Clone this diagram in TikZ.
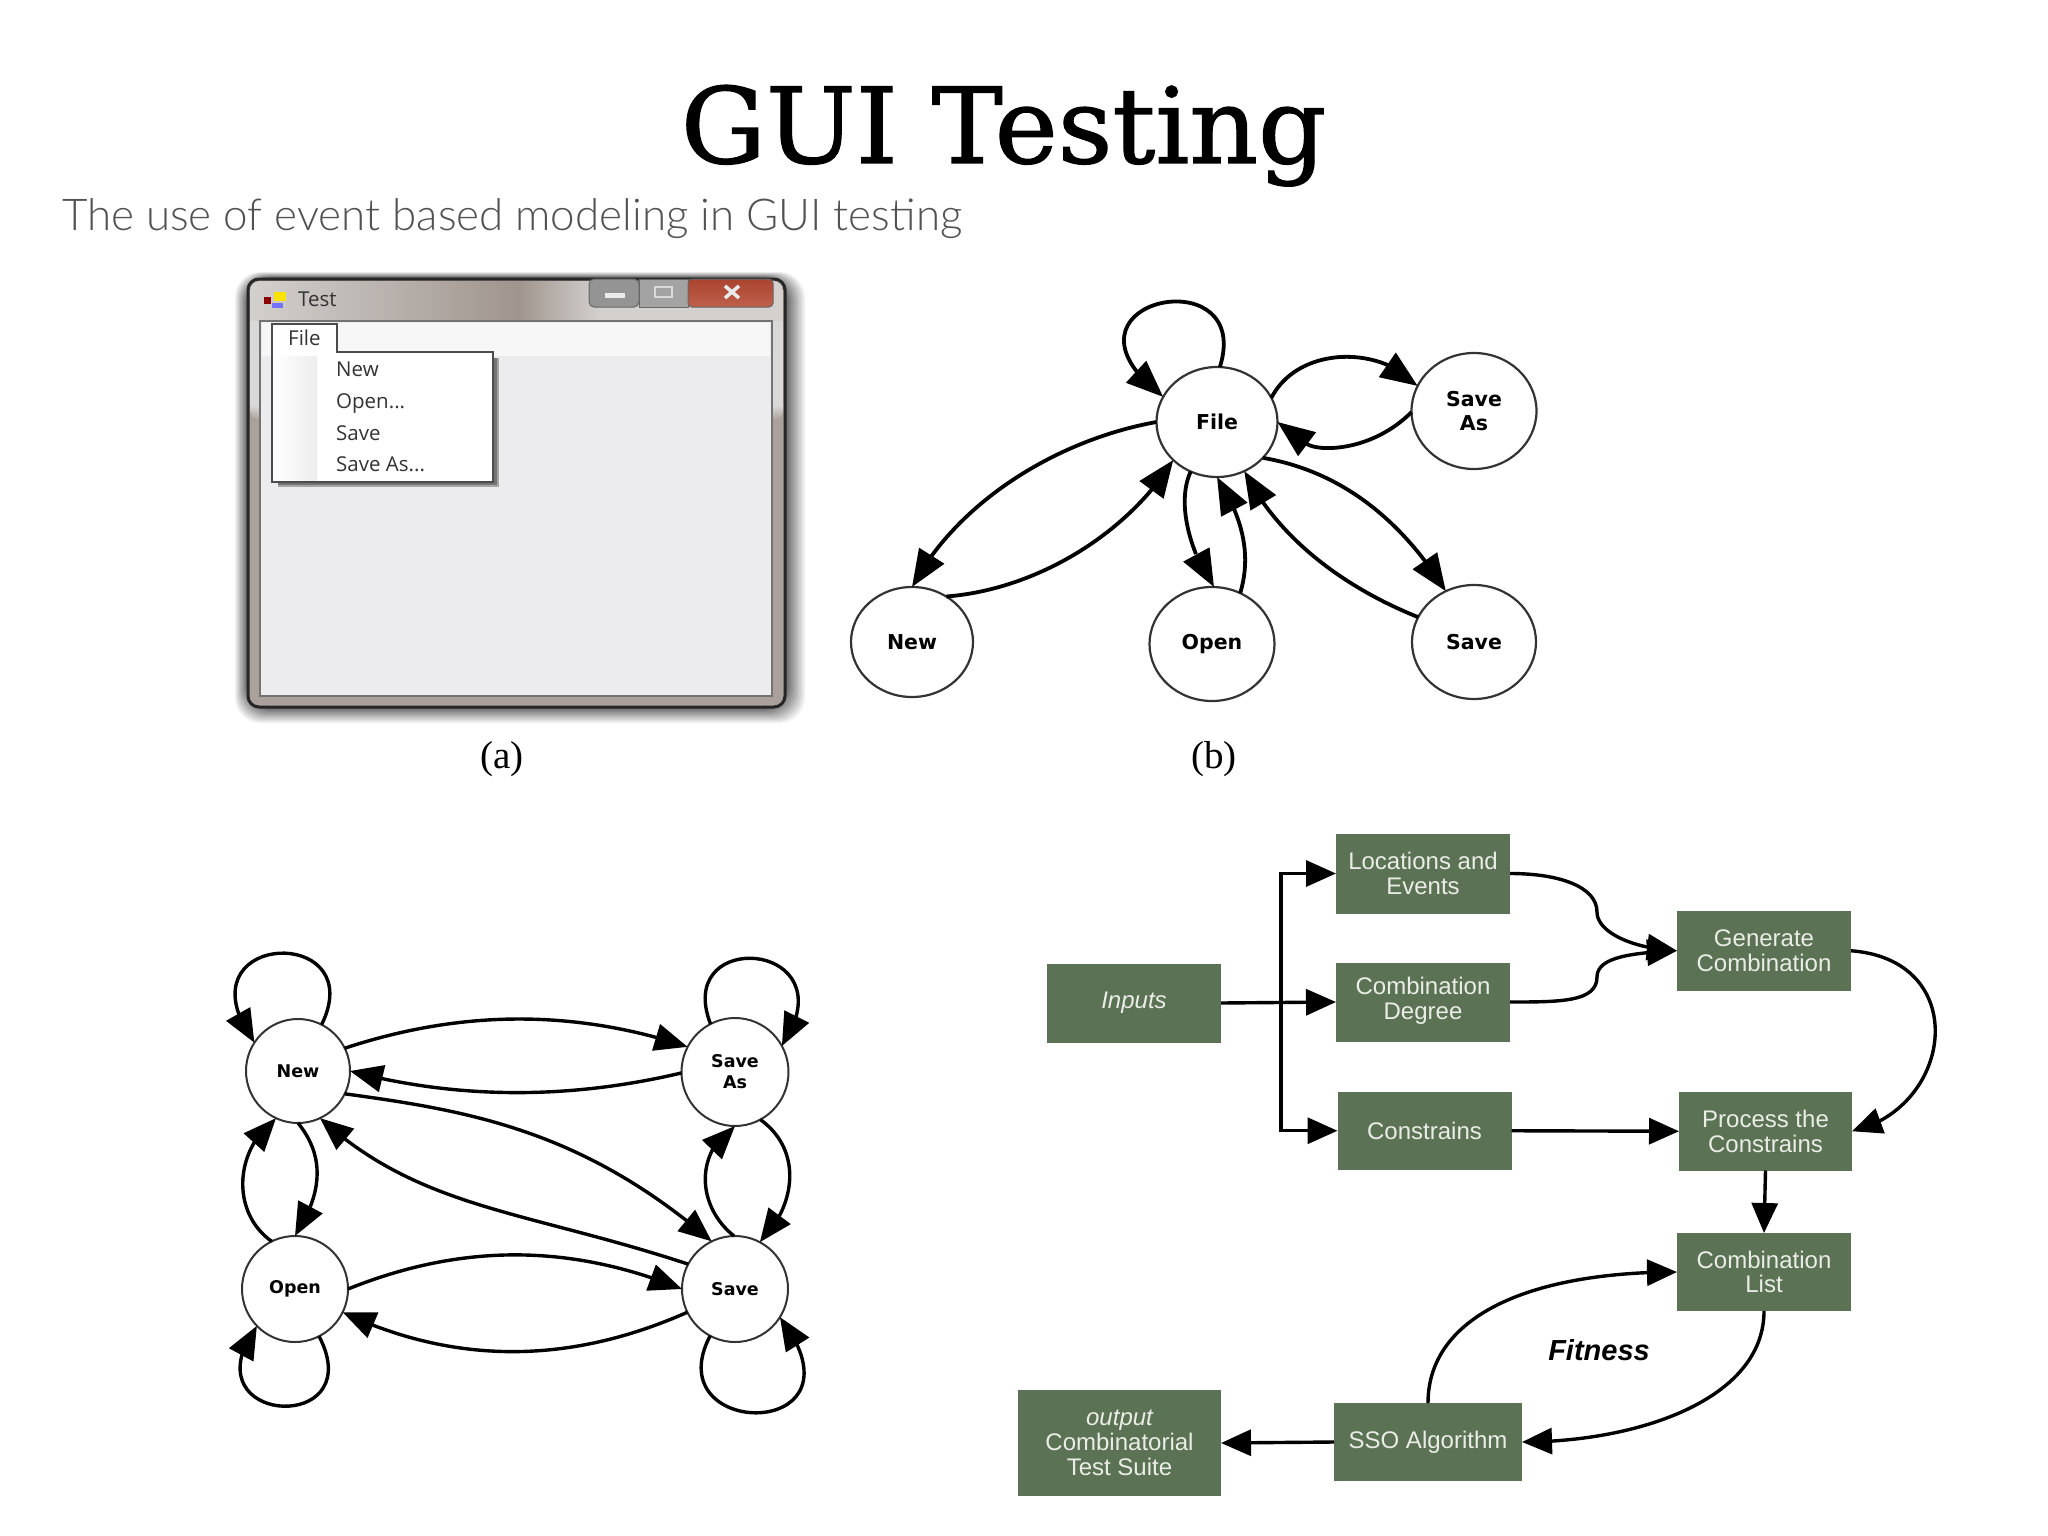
\documentclass[tikz,border=0pt]{standalone}
\usepackage{fontspec}
\usepackage{graphicx}
\usetikzlibrary{arrows.meta,bending,shapes.geometric}
\setmainfont{Liberation Sans}
\newfontfamily\titlefont[FakeBold=1.2]{DejaVu Serif}
\newfontfamily\subfont{Lato Light}
\newfontfamily\capfont{Liberation Serif}
\newfontfamily\winfont{Open Sans}
\newfontfamily\graphfont{DejaVu Sans}
\definecolor{boxgreen}{HTML}{5C7254}
\definecolor{boxtext}{HTML}{E9EDE6}
\definecolor{framedark}{HTML}{A0958E}
\definecolor{framemid}{HTML}{ABA19C}
\definecolor{framelite}{HTML}{D3D0CE}
\definecolor{clientgray}{HTML}{ECECEE}
\definecolor{closered}{HTML}{A9442F}
\definecolor{closelite}{HTML}{C0604C}
\tikzset{
  bnode/.style={draw=black!80,line width=2.2pt,fill=white,ellipse,inner sep=0pt,outer sep=0pt,align=center,
     font=\graphfont\bfseries\fontsize{20.5}{23.5}\selectfont},
  cnode/.style={draw=black!80,line width=2pt,fill=white,ellipse,inner sep=0pt,outer sep=0pt,align=center,
     font=\graphfont\bfseries\fontsize{17.5}{21}\selectfont},
  garrow/.style={line width=3.8pt,draw=black,-{Triangle[length=37pt,width=29pt,flex]}},
  garrowquick/.style={line width=3.8pt,draw=black,-{Triangle[length=37pt,width=29pt,quick]}},
  carrow/.style={line width=3.4pt,draw=black,-{Triangle[length=33pt,width=27pt,flex]}},
  flowbox/.style={draw=none,fill=boxgreen,text=boxtext,inner sep=0pt,outer sep=0pt,align=center,anchor=north west,
     font=\fontsize{24}{24.7}\selectfont},
  farrow/.style={line width=3.4pt,draw=black,-{Triangle[length=30pt,width=26pt,flex]}},
  menutext/.style={anchor=west,text=black!80,inner sep=0pt,text height=17pt,text depth=3pt,font=\winfont\fontsize{20.5}{24}\selectfont},
  capt/.style={inner sep=0pt,font=\capfont\fontsize{39}{42}\selectfont},
}
\begin{document}
\begin{tikzpicture}[x=1pt,y=-1pt]
\useasboundingbox (0,0) rectangle (2048,1536);
\fill[white] (0,0) rectangle (2048,1536);

% Title and subtitle
\node[inner sep=0pt,anchor=base] (title) at (1003.5,163)
  {\titlefont\fontsize{105}{120}\selectfont\scalebox{1.015}[1]{GUI Testing}};
\node[inner sep=0pt,anchor=base west,text=black!68] (subtitle) at (62,230)
  {\resizebox{900pt}{!}{\subfont\fontsize{46}{50}\selectfont The use of event based modeling in GUI testing}};

% (a) window
\foreach \i in {0,...,10}{
  \pgfmathsetmacro{\sh}{6+\i*6}
  \fill[black!\sh,rounded corners=26pt] (235+1.3*\i,272+.6*\i) rectangle (805-2*\i,723-1.6*\i);
}
\fill[framemid,draw=black!85,line width=3pt,rounded corners=11pt] (248,279) rectangle (785,707);
\begin{scope}
  \clip[rounded corners=10pt] (250,281) rectangle (783,420);
  \shade[left color=framelite,right color=framedark] (250,281) rectangle (518,321);
  \shade[left color=framedark,right color=framelite] (518,281) rectangle (600,321);
  \fill[framelite] (600,281) rectangle (783,321);
  \fill[black!15] (250,321) rectangle (260,405);
  \fill[black!15] (773,321) rectangle (783,405);
  \shade[top color=black!15,bottom color=framemid] (250,405) rectangle (260,420);
  \shade[top color=black!15,bottom color=framemid] (773,405) rectangle (783,420);
\end{scope}
\fill[clientgray,draw=black!55,line width=1.5pt] (260,321) rectangle (772,696);
\fill[black!3] (262,323) rectangle (770,356);
% title bar buttons
\fill[black!42,draw=black!60,line width=1pt,rounded corners=5pt] (589,279) -- (589,307) -- (639,307) -- (639,279) -- cycle;
\fill[black!36,draw=black!60,line width=1pt] (639,279) rectangle (688,307);
\shade[top color=closered,bottom color=closelite,draw=black!60,line width=1pt,rounded corners=4pt] (688,279) -- (688,307) -- (773,307) -- (773,279) -- cycle;
\fill[white!92!black] (605,293) rectangle (625,298);
\draw[white!85!black,line width=2.5pt] (655,287) rectangle (672,297);
\draw[white!92!black,line width=3.5pt] (725,286) -- (739,298) (739,286) -- (725,298);
% icon
\fill[yellow!85!orange] (274,292) rectangle (286,301);
\fill[red!55!black] (264,297) rectangle (271,304);
\fill[blue!55!white] (272,303) rectangle (283,308);
\node[menutext] (wintitle) at (298,299) {Test};
% dropdown menu
\fill[black!35] (278,358) rectangle (499,487);
\fill[black!55] (278,358) rectangle (497,485);
\fill[white,draw=black!70,line width=1.5pt] (272,324) -- (337,324) -- (337,352) -- (493,352) -- (493,482) -- (272,482) -- cycle;
\shade[left color=white,right color=black!7] (274,356) rectangle (317,480);
\node[menutext] (mfile) at (288,338) {File};
\node[menutext] (mnew) at (336,369) {New};
\node[menutext] (mopen) at (336,401) {Open...};
\node[menutext] (msave) at (336,433) {Save};
\node[menutext] (msaveas) at (336,464) {Save As...};

\node[capt] (capa) at (502,759) {(a)};
\node[capt] (capb) at (1214,759) {(b)};

% (b) event graph
\node[bnode,minimum width=121pt,minimum height=110pt] (bfile) at (1217,422) {File};
\node[bnode,minimum width=125pt,minimum height=116pt] (bsaveas) at (1474,411) {Save\\As};
\node[bnode,minimum width=122pt,minimum height=110pt] (bnew) at (912,642) {New};
\node[bnode,minimum width=125pt,minimum height=114pt] (bopen) at (1212,644) {Open};
\node[bnode,minimum width=124pt,minimum height=114pt] (bsave) at (1474,642) {Save};

\draw[garrow] (bfile.87) .. controls +(35,-112) and +(-125,-96) .. (bfile.155);
\draw[garrow] (bfile.24) .. controls +(27,-52) and +(-37,-41) .. (bsaveas.156);
\draw[garrowquick] (bsaveas.181) .. controls +(-40,40) and +(40,30) .. (bfile.0);
\draw[garrow] (bfile.180) .. controls +(-100,18) and +(45,-85) .. (bnew.90);
\draw[garrow] (bnew.53) .. controls +(90,-7) and +(-46,74) .. (bfile.221);
\draw[garrow] (bfile.242) .. controls +(-15,32) and +(-23,-32) .. (bopen.88);
\draw[garrow] (bopen.61) .. controls +(13,-43) and +(22,35) .. (bfile.270);
\draw[garrow] (bfile.322) .. controls +(70,12) and +(-50,-80) .. (bsave.119);
\draw[garrow] (bsave.156) .. controls +(-70,-28) and +(35,70) .. (bfile.299.5);

% (c) event graph
\node[cnode,minimum width=104pt,minimum height=104pt] (cnew) at (298,1071) {New};
\node[cnode,minimum width=107pt,minimum height=108pt] (csaveas) at (735,1072) {Save\\As};
\node[cnode,minimum width=106pt,minimum height=106pt] (copen) at (295,1289) {Open};
\node[cnode,minimum width=106pt,minimum height=106pt] (csave) at (735,1289) {Save};

\draw[carrow] (cnew.63) .. controls +(50,-102) and +(-80,-112) .. (cnew.147);
\draw[carrow] (csaveas.117) .. controls +(-38,-98) and +(70,-105) .. (csaveas.29);
\draw[carrow] (copen.297) .. controls +(52,100) and +(-72,100) .. (copen.224);
\draw[carrow] (csave.242) .. controls +(-55,105) and +(95,125) .. (csave.328);
\draw[carrow] (cnew.26) .. controls +(115,-38) and +(-115,-38) .. (csaveas.152);
\draw[carrow] (csaveas.181) .. controls +(-110,26) and +(110,29) .. (cnew.0);
\draw[carrow] (cnew.334) .. controls +(125,17) and +(-129,-111) .. (csave.116);
\draw[carrow] (csave.152.5) .. controls +(-164,-54) and +(100,91) .. (cnew.295);
\draw[carrow] (copen.0) .. controls +(112,-45) and +(-114,-46) .. (csave.180);
\draw[carrow] (csave.206) .. controls +(-115,51) and +(115,54) .. (copen.334);
\draw[carrow] (cnew.270) .. controls +(26,32) and +(29,-45) .. (copen.90);
\draw[carrow] (copen.116) .. controls +(-40,-28) and +(-43,33) .. (cnew.245);
\draw[carrow] (csaveas.298) .. controls +(42,30) and +(37,-37) .. (csave.62);
\draw[carrow] (csave.91) .. controls +(-38,-30) and +(-40,25) .. (csaveas.270);

% (d) flow chart
\node[flowbox,minimum width=174pt,minimum height=80pt] (loc) at (1336,833.5) {Locations and\\Events};
\node[flowbox,minimum width=174pt,minimum height=79pt] (deg) at (1336,962.5) {\raisebox{-2pt}{\begin{tabular}{@{}c@{}}Combination\\Degree\end{tabular}}};
\node[flowbox,minimum width=174pt,minimum height=79pt] (inp) at (1047,963.5) {\raisebox{-2.5pt}{\itshape Inputs}};
\node[flowbox,minimum width=174pt,minimum height=78.5pt] (con) at (1337.5,1091.5) {Constrains};
\node[flowbox,minimum width=174pt,minimum height=79.5pt] (gen) at (1677,911) {Generate\\Combination};
\node[flowbox,minimum width=173pt,minimum height=78.5pt] (pro) at (1679,1092) {Process the\\Constrains};
\node[flowbox,minimum width=174pt,minimum height=78pt] (lst) at (1677,1233) {Combination\\List};
\node[flowbox,minimum width=188pt,minimum height=78pt] (sso) at (1334,1403) {SSO Algorithm};
\node[flowbox,minimum width=203pt,minimum height=106pt] (out) at (1018,1390) {{\itshape output}\\Combinatorial\\Test Suite};
\node[inner sep=0pt,font=\bfseries\itshape\fontsize{29}{32}\selectfont] (fit) at (1599,1350) {Fitness};

\coordinate (jn) at (1281,1002);
\coordinate (m1) at (1597,912);
\coordinate (m2) at (1597,977);
\draw[farrow] (inp.east) -- (deg.west);
\draw[farrow] (jn) |- (loc.west);
\draw[farrow] (jn) |- (con.west);
\draw[farrow] (loc.east) .. controls +(50,0) and +(0,-25) .. (m1) .. controls +(0,20) and +(-45,-2) .. (gen.west);
\draw[farrow] (deg.east) .. controls +(50,0) and +(0,25) .. (m2) .. controls +(0,-20) and +(-45,2) .. (gen.west);
\draw[farrow] (gen.east) .. controls (1972,960) and (1954,1108) .. (pro.east);
\draw[farrow] (con.east) -- (pro.west);
\draw[farrow] (pro.south) -- (lst.north);
\draw[farrow] (sso.north) .. controls +(0,-85) and +(-151,0) .. (lst.west);
\draw[farrow] (lst.south) .. controls +(0,88) and +(117,0) .. (sso.east);
\draw[farrow] (sso.west) -- (out.east);
\end{tikzpicture}
\end{document}
